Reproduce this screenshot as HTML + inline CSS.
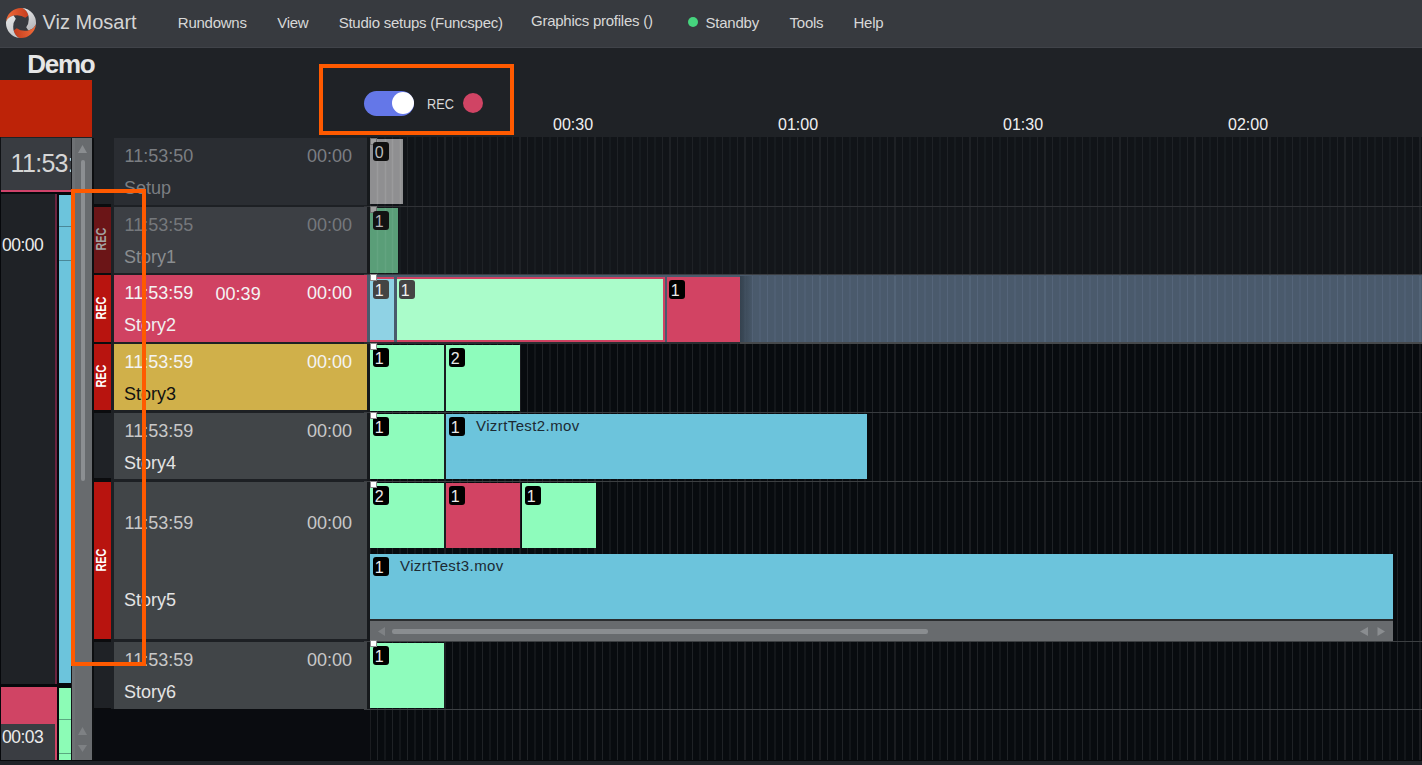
<!DOCTYPE html><html><head><meta charset="utf-8"><title>Viz Mosart</title><style>
*{margin:0;padding:0;box-sizing:border-box}
html,body{width:1422px;height:765px;overflow:hidden;background:#1f2226;font-family:"Liberation Sans",sans-serif}
.a{position:absolute}
.t{position:absolute;white-space:nowrap;line-height:1}
</style></head><body>
<div class="a" style="left:0;top:0;width:1422px;height:47px;background:#373a3f"></div>
<div class="a" style="left:0;top:47px;width:1422px;height:1px;background:#404349"></div>
<svg class="a" style="left:5px;top:7px" width="32" height="32" viewBox="0 0 32 32">
<defs>
<linearGradient id="og" gradientUnits="userSpaceOnUse" x1="1" y1="10" x2="22" y2="6"><stop offset="0" stop-color="#f26d3b"/><stop offset="1" stop-color="#c73f1f"/></linearGradient>
<linearGradient id="og2" gradientUnits="userSpaceOnUse" x1="31" y1="22" x2="10" y2="26"><stop offset="0" stop-color="#f26d3b"/><stop offset="1" stop-color="#c73f1f"/></linearGradient>
<linearGradient id="gg" gradientUnits="userSpaceOnUse" x1="18" y1="2" x2="28" y2="20"><stop offset="0" stop-color="#e6e7e8"/><stop offset="1" stop-color="#b9babd"/></linearGradient>
<linearGradient id="gg2" gradientUnits="userSpaceOnUse" x1="4" y1="12" x2="14" y2="30"><stop offset="0" stop-color="#dfe0e1"/><stop offset="1" stop-color="#c3c4c6"/></linearGradient>
</defs>
<path d="M1.06 14.70A15 15 0 0 1 17.30 1.06Q22.00 2.90 23.40 8.60L20.30 10.80Q15.45 7.20 8.60 8.60Q2.90 10.00 1.06 14.70Z" fill="url(#og)"/>
<path d="M17.30 1.06A15 15 0 0 1 30.94 17.30Q29.10 22.00 23.40 23.40L21.20 20.30Q24.80 15.45 23.40 8.60Q22.00 2.90 17.30 1.06Z" fill="url(#gg)"/>
<path d="M30.94 17.30A15 15 0 0 1 14.70 30.94Q10.00 29.10 8.60 23.40L11.70 21.20Q16.55 24.80 23.40 23.40Q29.10 22.00 30.94 17.30Z" fill="url(#og2)"/>
<path d="M14.70 30.94A15 15 0 0 1 1.06 14.70Q2.90 10.00 8.60 8.60L10.80 11.70Q7.20 16.55 8.60 23.40Q10.00 29.10 14.70 30.94Z" fill="url(#gg2)"/>
</svg>
<div class="t" style="left:42.5px;top:12px;font-size:20px;color:#d4d4d4">Viz Mosart</div>
<div class="t m" style="left:177.8px;top:15.3px;font-size:15px;letter-spacing:-0.25px;color:#d8d8d8">Rundowns</div>
<div class="t m" style="left:277.2px;top:15.3px;font-size:15px;letter-spacing:-0.25px;color:#d8d8d8">View</div>
<div class="t m" style="left:338.7px;top:15.3px;font-size:15px;letter-spacing:-0.25px;color:#d8d8d8">Studio setups (Funcspec)</div>
<div class="t m" style="left:531px;top:13.3px;font-size:15px;letter-spacing:-0.25px;color:#d8d8d8">Graphics profiles ()</div>
<div class="t m" style="left:705.6px;top:15.3px;font-size:15px;letter-spacing:-0.25px;color:#d8d8d8">Standby</div>
<div class="t m" style="left:789.6px;top:15.3px;font-size:15px;letter-spacing:-0.25px;color:#d8d8d8">Tools</div>
<div class="t m" style="left:853.5px;top:15.3px;font-size:15px;letter-spacing:-0.25px;color:#d8d8d8">Help</div>
<div class="a" style="left:688px;top:17px;width:10px;height:10px;border-radius:50%;background:#46d47e"></div>
<div class="t" style="left:27.3px;top:51px;font-size:26px;letter-spacing:-1.3px;font-weight:bold;color:#e6e6e6">Demo</div>
<div class="a" style="left:0;top:80px;width:92px;height:57px;background:#bd2308"></div>
<div class="a" style="left:364px;top:91px;width:50px;height:25px;border-radius:13px;background:#6477e8"></div>
<div class="a" style="left:392px;top:92px;width:22px;height:22px;border-radius:50%;background:#fff"></div>
<div class="t" style="left:427px;top:96px;font-size:15.5px;color:#d8d8d8;transform:scaleX(0.82);transform-origin:0 0">REC</div>
<div class="a" style="left:463px;top:93px;width:20px;height:20px;border-radius:50%;background:#d04464"></div>
<div class="t" style="left:553px;top:116.5px;width:40px;text-align:right;font-size:16px;color:#f0f0f0">00:30</div>
<div class="t" style="left:778px;top:116.5px;width:40px;text-align:right;font-size:16px;color:#f0f0f0">01:00</div>
<div class="t" style="left:1003px;top:116.5px;width:40px;text-align:right;font-size:16px;color:#f0f0f0">01:30</div>
<div class="t" style="left:1228px;top:116.5px;width:40px;text-align:right;font-size:16px;color:#f0f0f0">02:00</div>
<div class="a" style="left:367px;top:137px;width:1055px;height:624px;background:#080b0f"></div>
<div class="a" style="left:367px;top:137px;width:1055px;height:69px;background:#111418"></div>
<div class="a" style="left:367px;top:207px;width:1055px;height:67px;background:#13161a"></div>
<svg class="a" style="left:0;top:0" width="1422" height="765"><path d="M377.5 137V760M385 137V760M392.5 137V760M400 137V760M407.5 137V760M415 137V760M422.5 137V760M430 137V760M437.5 137V760M452.5 137V760M460 137V760M467.5 137V760M475 137V760M482.5 137V760M490 137V760M497.5 137V760M505 137V760M512.5 137V760M527.5 137V760M535 137V760M542.5 137V760M550 137V760M557.5 137V760M565 137V760M572.5 137V760M580 137V760M587.5 137V760M602.5 137V760M610 137V760M617.5 137V760M625 137V760M632.5 137V760M640 137V760M647.5 137V760M655 137V760M662.5 137V760M677.5 137V760M685 137V760M692.5 137V760M700 137V760M707.5 137V760M715 137V760M722.5 137V760M730 137V760M737.5 137V760M752.5 137V760M760 137V760M767.5 137V760M775 137V760M782.5 137V760M790 137V760M797.5 137V760M805 137V760M812.5 137V760M827.5 137V760M835 137V760M842.5 137V760M850 137V760M857.5 137V760M865 137V760M872.5 137V760M880 137V760M887.5 137V760M902.5 137V760M910 137V760M917.5 137V760M925 137V760M932.5 137V760M940 137V760M947.5 137V760M955 137V760M962.5 137V760M977.5 137V760M985 137V760M992.5 137V760M1000 137V760M1007.5 137V760M1015 137V760M1022.5 137V760M1030 137V760M1037.5 137V760M1052.5 137V760M1060 137V760M1067.5 137V760M1075 137V760M1082.5 137V760M1090 137V760M1097.5 137V760M1105 137V760M1112.5 137V760M1127.5 137V760M1135 137V760M1142.5 137V760M1150 137V760M1157.5 137V760M1165 137V760M1172.5 137V760M1180 137V760M1187.5 137V760M1202.5 137V760M1210 137V760M1217.5 137V760M1225 137V760M1232.5 137V760M1240 137V760M1247.5 137V760M1255 137V760M1262.5 137V760M1277.5 137V760M1285 137V760M1292.5 137V760M1300 137V760M1307.5 137V760M1315 137V760M1322.5 137V760M1330 137V760M1337.5 137V760M1352.5 137V760M1360 137V760M1367.5 137V760M1375 137V760M1382.5 137V760M1390 137V760M1397.5 137V760M1405 137V760M1412.5 137V760" stroke="#1f2226" stroke-width="1" fill="none"/><path d="M370 137V760M445 137V760M520 137V760M595 137V760M670 137V760M745 137V760M820 137V760M895 137V760M970 137V760M1045 137V760M1120 137V760M1195 137V760M1270 137V760M1345 137V760M1420 137V760" stroke="#2c2f33" stroke-width="1" fill="none"/></svg>
<div class="a" style="left:0;top:137px;width:1px;height:624px;background:#101215"></div>
<div class="a" style="left:1px;top:138px;width:70px;height:52px;background:#393c41;overflow:hidden"><div class="t" style="left:9.6px;top:13px;font-size:25px;letter-spacing:-0.7px;color:#d6d6d6">11:53:59</div></div>
<div class="a" style="left:1px;top:190px;width:70px;height:2px;background:#d0436a"></div>
<div class="a" style="left:0;top:192px;width:71px;height:568px;background:#06080b"></div>
<div class="a" style="left:1px;top:194px;width:54px;height:490px;background:#1f2226"></div>
<div class="a" style="left:55px;top:194px;width:2px;height:490px;background:#6a2440"></div>
<div class="t" style="left:2px;top:237px;font-size:17.5px;letter-spacing:-0.5px;color:#ececec">00:00</div>
<div class="a" style="left:59px;top:195px;width:12px;height:488px;background:#6cc4dc"></div>
<div class="a" style="left:59px;top:226px;width:12px;height:1px;background:#4a8898"></div>
<div class="a" style="left:59px;top:260px;width:12px;height:1px;background:#4a8898"></div>
<div class="a" style="left:1px;top:687px;width:56px;height:73px;background:#d04464"></div>
<div class="a" style="left:1px;top:724px;width:54px;height:36px;background:#3a3d42"></div>
<div class="t" style="left:2px;top:728.5px;font-size:17.5px;letter-spacing:-0.5px;color:#ececec">00:03</div>
<div class="a" style="left:59px;top:688px;width:12px;height:72px;background:#8cfcb6"></div>
<div class="a" style="left:59px;top:719px;width:12px;height:1px;background:#5aa880"></div>
<div class="a" style="left:59px;top:753px;width:12px;height:1px;background:#5aa880"></div>
<div class="a" style="left:71px;top:138px;width:1px;height:622px;background:#15171a"></div>
<div class="a" style="left:72px;top:138px;width:20px;height:622px;background:#686b6e"></div>
<div class="a" style="left:72px;top:138px;width:3px;height:622px;background:#6e7174"></div>
<div class="a" style="left:81px;top:160px;width:4px;height:321px;border-radius:2px;background:#8c8f92"></div>
<svg class="a" style="left:72px;top:138px" width="20" height="622"><path d="M10.5 7 L15 15 L6 15 Z" fill="#8a8d90"/><path d="M10.5 589 L15 597 L6 597 Z" fill="#7e8184"/><path d="M6 607 L15 607 L10.5 614 Z" fill="#7e8184"/></svg>
<div class="a" style="left:92px;top:138px;width:2px;height:622px;background:#0c0e10"></div>
<div class="a" style="left:0;top:760px;width:1422px;height:1px;background:#08090b"></div>
<div class="a" style="left:0;top:761px;width:1422px;height:4px;background:#1f2227"></div>
<div class="a" style="left:94px;top:138px;width:17px;height:571px;background:#0b0c0e"></div>
<div class="a" style="left:111px;top:138px;width:256px;height:571px;background:#1d2024"></div>
<div class="a" style="left:94px;top:709px;width:276px;height:51px;background:#0a0c10"></div>
<div class="a" style="left:94px;top:138px;width:20px;height:66px;background:#1f2226"></div>
<div class="a" style="left:114px;top:138px;width:253px;height:67px;background:#2a2d32"></div>
<div class="t" style="left:124.50px;top:146.76px;font-size:18px;color:#7b7e82;">11:53:50</div>
<div class="t" style="left:307.0px;top:146.76px;width:44px;text-align:right;font-size:18px;color:#7b7e82">00:00</div>
<div class="t" style="left:124.00px;top:179.46px;font-size:18px;color:#7b7e82;">Setup</div>
<div class="a" style="left:94px;top:207px;width:17px;height:65px;background:#1f2226"></div>
<div class="a" style="left:94px;top:207px;width:17px;height:66px;background:#6b1517"></div>
<div class="t" style="left:101.3px;top:239.2px;font-size:14.5px;font-weight:bold;color:#a2a2a2;transform:translate(-50%,-50%) rotate(-90deg) scaleX(0.75)">REC</div>
<div class="a" style="left:114px;top:207px;width:253px;height:66px;background:#3c3f44"></div>
<div class="t" style="left:124.50px;top:215.76px;font-size:18px;color:#75787c;">11:53:55</div>
<div class="t" style="left:307.0px;top:215.76px;width:44px;text-align:right;font-size:18px;color:#75787c">00:00</div>
<div class="t" style="left:124.00px;top:248.46px;font-size:18px;color:#8a8d90;">Story1</div>
<div class="a" style="left:94px;top:275px;width:17px;height:66px;background:#1f2226"></div>
<div class="a" style="left:94px;top:275px;width:17px;height:67px;background:#b8140f"></div>
<div class="t" style="left:101.3px;top:307.7px;font-size:14.5px;font-weight:bold;color:#ffffff;transform:translate(-50%,-50%) rotate(-90deg) scaleX(0.75)">REC</div>
<div class="a" style="left:114px;top:275px;width:253px;height:67px;background:#d04262"></div>
<div class="t" style="left:124.50px;top:283.76px;font-size:18px;color:#f4f4f4;">11:53:59</div>
<div class="t" style="left:307.0px;top:283.76px;width:44px;text-align:right;font-size:18px;color:#f4f4f4">00:00</div>
<div class="t" style="left:215.60px;top:284.76px;font-size:18px;color:#f4f4f4;">00:39</div>
<div class="t" style="left:124.00px;top:316.46px;font-size:18px;color:#f0f0f0;">Story2</div>
<div class="a" style="left:94px;top:344px;width:17px;height:65px;background:#1f2226"></div>
<div class="a" style="left:94px;top:344px;width:17px;height:66px;background:#b8140f"></div>
<div class="t" style="left:101.3px;top:376.2px;font-size:14.5px;font-weight:bold;color:#ffffff;transform:translate(-50%,-50%) rotate(-90deg) scaleX(0.75)">REC</div>
<div class="a" style="left:114px;top:344px;width:253px;height:66px;background:#d0b04a"></div>
<div class="t" style="left:124.50px;top:352.76px;font-size:18px;color:#f4f4f4;">11:53:59</div>
<div class="t" style="left:307.0px;top:352.76px;width:44px;text-align:right;font-size:18px;color:#f4f4f4">00:00</div>
<div class="t" style="left:124.00px;top:385.46px;font-size:18px;color:#111111;">Story3</div>
<div class="a" style="left:94px;top:413px;width:20px;height:65px;background:#1f2226"></div>
<div class="a" style="left:114px;top:413px;width:253px;height:66px;background:#414548"></div>
<div class="t" style="left:124.50px;top:421.76px;font-size:18px;color:#c8c8c8;">11:53:59</div>
<div class="t" style="left:307.0px;top:421.76px;width:44px;text-align:right;font-size:18px;color:#c8c8c8">00:00</div>
<div class="t" style="left:124.00px;top:454.46px;font-size:18px;color:#e4e4e4;">Story4</div>
<div class="a" style="left:94px;top:482px;width:17px;height:156px;background:#1f2226"></div>
<div class="a" style="left:94px;top:482px;width:17px;height:157px;background:#b8140f"></div>
<div class="t" style="left:101.3px;top:559.7px;font-size:14.5px;font-weight:bold;color:#ffffff;transform:translate(-50%,-50%) rotate(-90deg) scaleX(0.75)">REC</div>
<div class="a" style="left:114px;top:482px;width:253px;height:157px;background:#414548"></div>
<div class="t" style="left:124.50px;top:513.76px;font-size:18px;color:#c8c8c8;">11:53:59</div>
<div class="t" style="left:307.0px;top:513.76px;width:44px;text-align:right;font-size:18px;color:#c8c8c8">00:00</div>
<div class="t" style="left:124.00px;top:591.46px;font-size:18px;color:#e4e4e4;">Story5</div>
<div class="a" style="left:94px;top:642px;width:20px;height:66px;background:#1f2226"></div>
<div class="a" style="left:114px;top:642px;width:253px;height:67px;background:#414548"></div>
<div class="t" style="left:124.50px;top:650.76px;font-size:18px;color:#c8c8c8;">11:53:59</div>
<div class="t" style="left:307.0px;top:650.76px;width:44px;text-align:right;font-size:18px;color:#c8c8c8">00:00</div>
<div class="t" style="left:124.00px;top:683.46px;font-size:18px;color:#e4e4e4;">Story6</div>
<div class="a" style="left:367px;top:137px;width:3px;height:573px;background:#16191c"></div>
<div class="a" style="left:364px;top:206px;width:1058px;height:1px;background:#303236"></div>
<div class="a" style="left:364px;top:274px;width:1058px;height:1px;background:#3a3d42"></div>
<div class="a" style="left:364px;top:342px;width:1058px;height:2px;background:#46494c"></div>
<div class="a" style="left:364px;top:412px;width:1058px;height:1px;background:#383b3f"></div>
<div class="a" style="left:364px;top:481px;width:1058px;height:1px;background:#3c3f42"></div>
<div class="a" style="left:364px;top:641px;width:1058px;height:1px;background:#3c3f42"></div>
<div class="a" style="left:364px;top:709px;width:1058px;height:1px;background:#3c3f43"></div>
<div class="a" style="left:370px;top:139px;width:33px;height:65px;background:#8f8f91"></div>
<svg class="a" style="left:370px;top:139px" width="33" height="65"><path d="M7.5 0V65M15.5 0V65M22.5 0V65M30.5 0V65" stroke="#9a9a9c" stroke-width="1.5"/></svg>
<div class="a" style="left:370px;top:138px;width:7px;height:7px;background:#a0a0a0;border:1px solid #707070"></div>
<div class="a" style="left:373px;top:142px;width:16px;height:19px;border-radius:3px;background:#101010"></div>
<div class="t" style="left:371.3px;top:145px;width:16px;text-align:center;font-size:16px;color:#bcbcbc">0</div>
<div class="a" style="left:370px;top:208px;width:28px;height:65px;background:#5a9e78"></div>
<svg class="a" style="left:370px;top:208px" width="28" height="65"><path d="M7.5 0V65M15.5 0V65M22.5 0V65" stroke="#63a480" stroke-width="1.5"/></svg>
<div class="a" style="left:370px;top:206px;width:7px;height:7px;background:#a0a0a0;border:1px solid #707070"></div>
<div class="a" style="left:373px;top:211px;width:16px;height:19px;border-radius:3px;background:#121212"></div>
<div class="t" style="left:371.3px;top:214px;width:16px;text-align:center;font-size:16px;color:#b4b4b4">1</div>
<div class="a" style="left:367px;top:275px;width:1055px;height:67px;background:#4a5a6c"></div>
<svg class="a" style="left:0;top:0" width="1422" height="765"><path d="M752.5 276V342M760 276V342M767.5 276V342M775 276V342M782.5 276V342M790 276V342M797.5 276V342M805 276V342M812.5 276V342M827.5 276V342M835 276V342M842.5 276V342M850 276V342M857.5 276V342M865 276V342M872.5 276V342M880 276V342M887.5 276V342M902.5 276V342M910 276V342M917.5 276V342M925 276V342M932.5 276V342M940 276V342M947.5 276V342M955 276V342M962.5 276V342M977.5 276V342M985 276V342M992.5 276V342M1000 276V342M1007.5 276V342M1015 276V342M1022.5 276V342M1030 276V342M1037.5 276V342M1052.5 276V342M1060 276V342M1067.5 276V342M1075 276V342M1082.5 276V342M1090 276V342M1097.5 276V342M1105 276V342M1112.5 276V342M1127.5 276V342M1135 276V342M1142.5 276V342M1150 276V342M1157.5 276V342M1165 276V342M1172.5 276V342M1180 276V342M1187.5 276V342M1202.5 276V342M1210 276V342M1217.5 276V342M1225 276V342M1232.5 276V342M1240 276V342M1247.5 276V342M1255 276V342M1262.5 276V342M1277.5 276V342M1285 276V342M1292.5 276V342M1300 276V342M1307.5 276V342M1315 276V342M1322.5 276V342M1330 276V342M1337.5 276V342M1352.5 276V342M1360 276V342M1367.5 276V342M1375 276V342M1382.5 276V342M1390 276V342M1397.5 276V342M1405 276V342M1412.5 276V342" stroke="#55657a" stroke-width="1" fill="none"/><path d="M745 276V342M820 276V342M895 276V342M970 276V342M1045 276V342M1120 276V342M1195 276V342M1270 276V342M1345 276V342M1420 276V342" stroke="#5d6e83" stroke-width="1" fill="none"/></svg>
<div class="a" style="left:740px;top:276px;width:14px;height:66px;background:linear-gradient(90deg,#35424f,rgba(74,90,108,0))"></div>
<div class="a" style="left:370px;top:277px;width:295px;height:65px;background:#d04262"></div>
<div class="a" style="left:370px;top:279px;width:24px;height:61px;background:#8fd2e4"></div>
<div class="a" style="left:394px;top:277px;width:2.5px;height:65px;background:#4a5a6c"></div>
<div class="a" style="left:396.5px;top:279px;width:266.5px;height:61px;background:#aafcca"></div>
<div class="a" style="left:667px;top:277px;width:73px;height:65px;background:#d24363"></div>
<div class="a" style="left:364px;top:342px;width:376px;height:2px;background:#2a2d31"></div>
<div class="a" style="left:373px;top:280px;width:16px;height:19px;border-radius:3px;background:#444"></div>
<div class="t" style="left:371.3px;top:283px;width:16px;text-align:center;font-size:16px;color:#f0f0f0">1</div>
<div class="a" style="left:399px;top:280px;width:16px;height:19px;border-radius:3px;background:#444"></div>
<div class="t" style="left:397.3px;top:283px;width:16px;text-align:center;font-size:16px;color:#f0f0f0">1</div>
<div class="a" style="left:669px;top:280px;width:16px;height:19px;border-radius:3px;background:#000"></div>
<div class="t" style="left:667.3px;top:283px;width:16px;text-align:center;font-size:16px;color:#e8e8e8">1</div>
<div class="a" style="left:370px;top:274px;width:7px;height:7px;background:#ffffff;border:1px solid #8a8a8a"></div>
<div class="a" style="left:370px;top:345px;width:74px;height:66px;background:#8efcbc"></div>
<div class="a" style="left:373px;top:348px;width:16px;height:19px;border-radius:3px;background:#000"></div>
<div class="t" style="left:371.3px;top:351px;width:16px;text-align:center;font-size:16px;color:#e8e8e8">1</div>
<div class="a" style="left:446px;top:345px;width:74px;height:66px;background:#8efcbc"></div>
<div class="a" style="left:449px;top:348px;width:16px;height:19px;border-radius:3px;background:#000"></div>
<div class="t" style="left:447.3px;top:351px;width:16px;text-align:center;font-size:16px;color:#e8e8e8">2</div>
<div class="a" style="left:370px;top:343px;width:7px;height:7px;background:#ffffff;border:1px solid #8a8a8a"></div>
<div class="a" style="left:370px;top:414px;width:74px;height:65px;background:#8efcbc"></div>
<div class="a" style="left:373px;top:417px;width:16px;height:19px;border-radius:3px;background:#000"></div>
<div class="t" style="left:371.3px;top:420px;width:16px;text-align:center;font-size:16px;color:#e8e8e8">1</div>
<div class="a" style="left:446px;top:414px;width:421px;height:65px;background:#6cc4dc"></div>
<div class="a" style="left:449px;top:417px;width:16px;height:19px;border-radius:3px;background:#000"></div>
<div class="t" style="left:447.3px;top:420px;width:16px;text-align:center;font-size:16px;color:#e8e8e8">1</div>
<div class="t" style="left:476.00px;top:417.90px;font-size:15px;color:#1c2a33;letter-spacing:0.4px">VizrtTest2.mov</div>
<div class="a" style="left:370px;top:412px;width:7px;height:7px;background:#ffffff;border:1px solid #8a8a8a"></div>
<div class="a" style="left:370px;top:483px;width:74px;height:65px;background:#8efcbc"></div>
<div class="a" style="left:373px;top:486px;width:16px;height:19px;border-radius:3px;background:#000"></div>
<div class="t" style="left:371.3px;top:489px;width:16px;text-align:center;font-size:16px;color:#e8e8e8">2</div>
<div class="a" style="left:446px;top:483px;width:74px;height:65px;background:#d24363"></div>
<div class="a" style="left:449px;top:486px;width:16px;height:19px;border-radius:3px;background:#000"></div>
<div class="t" style="left:447.3px;top:489px;width:16px;text-align:center;font-size:16px;color:#e8e8e8">1</div>
<div class="a" style="left:522px;top:483px;width:74px;height:65px;background:#8efcbc"></div>
<div class="a" style="left:525px;top:486px;width:16px;height:19px;border-radius:3px;background:#000"></div>
<div class="t" style="left:523.3px;top:489px;width:16px;text-align:center;font-size:16px;color:#e8e8e8">1</div>
<div class="a" style="left:370px;top:554px;width:1023px;height:65px;background:#6cc4dc"></div>
<div class="a" style="left:373px;top:557px;width:16px;height:19px;border-radius:3px;background:#000"></div>
<div class="t" style="left:371.3px;top:560px;width:16px;text-align:center;font-size:16px;color:#e8e8e8">1</div>
<div class="t" style="left:400.00px;top:557.90px;font-size:15px;color:#1c2a33;letter-spacing:0.4px">VizrtTest3.mov</div>
<div class="a" style="left:370px;top:619px;width:1023px;height:22px;background:#686b6e;border-top:2px solid #2a2c2e"></div>
<div class="a" style="left:392px;top:629px;width:536px;height:4.5px;border-radius:2.25px;background:#8a8d90"></div>
<svg class="a" style="left:370px;top:619px" width="1023" height="22"><path d="M8 12.5L15 8V17Z" fill="#7e8184"/><path d="M990 12.5L998 8V17Z" fill="#8a8d90"/><path d="M1007.5 8L1015 12.5L1007.5 17Z" fill="#8a8d90"/></svg>
<div class="a" style="left:370px;top:481px;width:7px;height:7px;background:#ffffff;border:1px solid #8a8a8a"></div>
<div class="a" style="left:370px;top:643px;width:74px;height:65px;background:#8efcbc"></div>
<div class="a" style="left:373px;top:646px;width:16px;height:19px;border-radius:3px;background:#000"></div>
<div class="t" style="left:371.3px;top:649px;width:16px;text-align:center;font-size:16px;color:#e8e8e8">1</div>
<div class="a" style="left:370px;top:640px;width:7px;height:7px;background:#ffffff;border:1px solid #8a8a8a"></div>
<div class="a" style="left:319px;top:64px;width:195px;height:71px;border:4px solid #ff5a00"></div>
<div class="a" style="left:71px;top:189px;width:75px;height:477px;border:4px solid #ff5a00"></div>
</body></html>
